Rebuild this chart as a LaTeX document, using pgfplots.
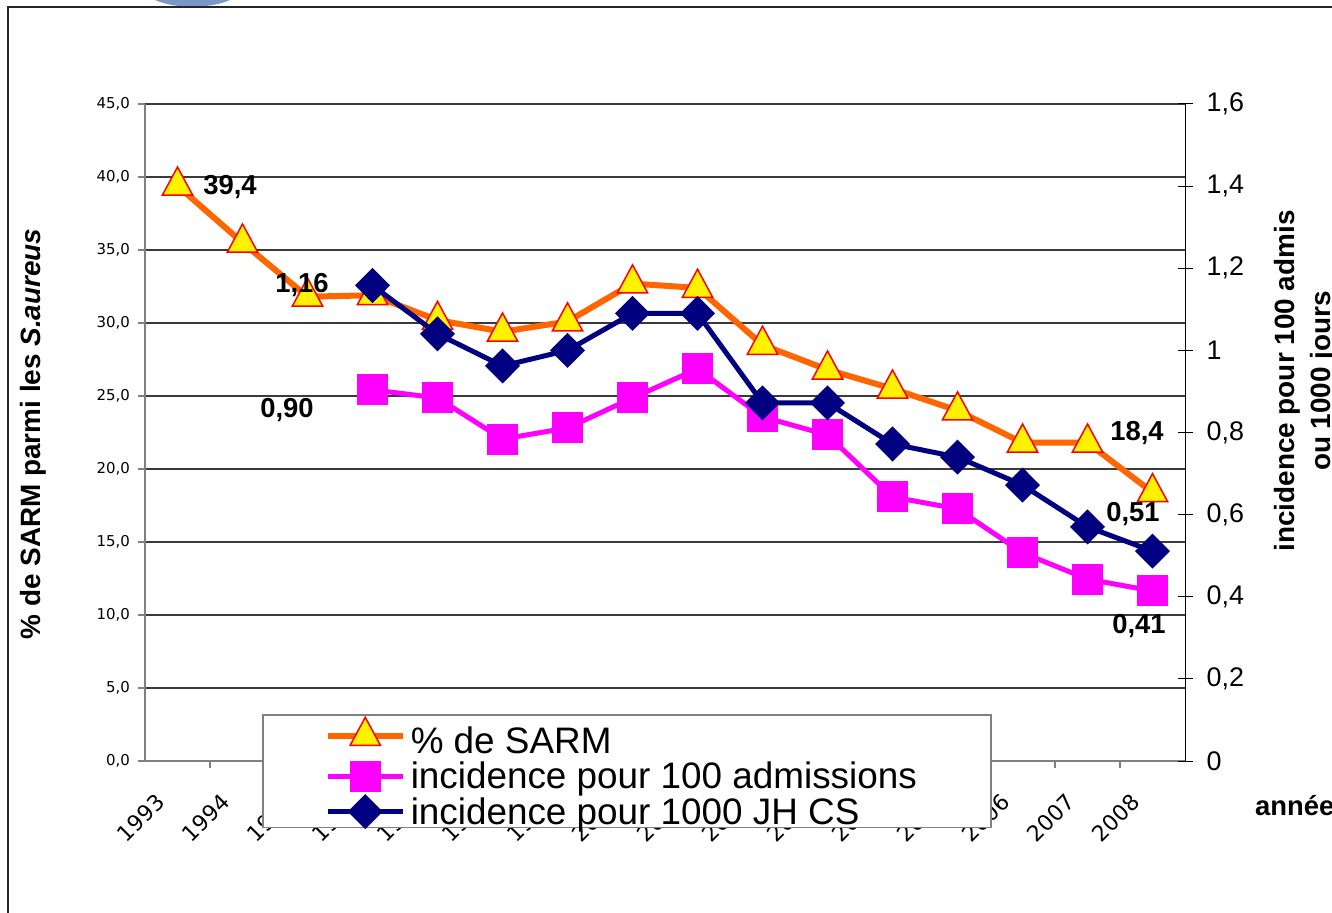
\documentclass[border=0pt]{standalone}
\usepackage{pgfplots}
\pgfplotsset{compat=1.18}
\usepackage{fontspec}
\setmainfont{Liberation Sans}
\newfontfamily\dejavu{DejaVu Sans}
\definecolor{sarmorange}{HTML}{FF6600}
\definecolor{admmag}{HTML}{FF00FF}
\definecolor{jhnavy}{HTML}{000080}
\definecolor{gridgray}{HTML}{3A3A3A}
\definecolor{axgray}{HTML}{808080}
\definecolor{blobblue}{HTML}{7B96C8}
\pgfplotsset{
  sarmstyle/.style={draw=sarmorange, line width=6bp, mark=triangle*, mark size=17.5bp,
    mark options={solid, fill=yellow, draw=red, line width=1.5bp, yscale=1.07}},
  admstyle/.style={draw=admmag, line width=5bp, mark=square*, mark size=13bp,
    mark options={solid, fill=admmag, draw=none}},
  jhstyle/.style={draw=jhnavy, line width=5bp, mark=diamond*, mark size=14bp,
    mark options={solid, fill=jhnavy, draw=none, xscale=1.33}},
}
\begin{document}
\begin{tikzpicture}[x=1bp,y=1bp]
\useasboundingbox (0,0) rectangle (1332,912);
\clip (0,0) rectangle (1332,912);
\fill[white] (0,0) rectangle (1332,912);
% top blob (fragment of a picture)
\fill[blobblue] (155,912) .. controls (175,903) and (210,903) .. (230,912) -- cycle;
% frame
\draw[line width=2bp, black!85] (8,-5) -- (8,905) -- (1340,905);

\begin{axis}[
  at={(145bp,151bp)}, anchor=south west,
  scale only axis, width=1040bp, height=657bp,
  xmin=-0.5, xmax=15.5, ymin=0, ymax=45,
  axis x line*=bottom, axis y line*=left,
  x axis line style={draw=axgray, line width=2bp},
  y axis line style={draw=axgray, line width=1.5bp},
  xtick={0,1,...,15},
  xticklabels={1993,1994,1995,1996,1997,1998,1999,2000,2001,2002,2003,2004,2005,2006,2007,2008},
  minor x tick num=1,
  major x tick style={draw=none},
  minor x tick style={draw=axgray, line width=1.5bp},
  minor tick length=7bp, major tick length=7bp,
  tick align=outside,
  xticklabel style={font=\dejavu\fontsize{22}{22}\selectfont, xshift=-23bp, yshift=-24bp, rotate=45, anchor=north east, inner sep=0pt},
  ytick={0,5,10,15,20,25,30,35,40,45},
  yticklabels={{0,0},{5,0},{10,0},{15,0},{20,0},{25,0},{30,0},{35,0},{40,0},{45,0}},
  yticklabel style={font=\dejavu\fontsize{15}{15}\selectfont, inner xsep=8bp},
  ytick style={draw=axgray, line width=1.5bp},
  ymajorgrids, major grid style={draw=gridgray, line width=1.2bp},
  clip=false,
]
\addplot[sarmstyle] coordinates {
(0,39.4) (1,35.5) (2,31.8) (3,31.9) (4,30.2) (5,29.4) (6,30.1) (7,32.7)
(8,32.4) (9,28.5) (10,26.8) (11,25.5) (12,24.0) (13,21.8) (14,21.8) (15,18.4)};
\end{axis}

\begin{axis}[
  at={(145bp,151bp)}, anchor=south west,
  scale only axis, width=1040bp, height=657bp,
  xmin=-0.5, xmax=15.5, ymin=0, ymax=1.6,
  axis x line=none, axis y line*=right,
  y axis line style={draw=black, line width=1bp},
  ytick={0,0.2,0.4,0.6,0.8,1,1.2,1.4,1.6},
  yticklabels={{0},{0,2},{0,4},{0,6},{0,8},{1},{1,2},{1,4},{1,6}},
  tick align=center, major tick length=15bp,
  ytick style={draw=black, line width=1bp},
  yticklabel style={font=\fontsize{27}{27}\selectfont, inner xsep=14bp},
  clip=false,
  legend cell align=left,
  legend image code/.code={\draw[mark repeat=2,mark phase=2,#1] plot coordinates {(0bp,0bp)(37.5bp,0bp)(75bp,0bp)};},
  legend style={at={(0.1125,0.0715)}, anchor=north west, draw=axgray, line width=1.5bp,
    fill=white, font=\fontsize{37}{34}\selectfont, inner xsep=62bp, inner ysep=0bp,
    row sep=3bp, column sep=3bp, nodes={inner sep=2bp}},
]
\addlegendimage{sarmstyle}
\addlegendentry{\rule{0pt}{37bp}\% de SARM}
\addplot[admstyle] coordinates {
(3,0.904) (4,0.884) (5,0.784) (6,0.811) (7,0.884) (8,0.955) (9,0.838)
(10,0.794) (11,0.643) (12,0.614) (13,0.507) (14,0.443) (15,0.414)};
\addlegendentry{incidence pour 100 admissions\hspace*{10bp}}
\addplot[jhstyle] coordinates {
(3,1.158) (4,1.04) (5,0.962) (6,1.0) (7,1.09) (8,1.09) (9,0.872)
(10,0.872) (11,0.772) (12,0.74) (13,0.672) (14,0.57) (15,0.511)};
\addlegendentry{incidence pour 1000 JH CS}
\end{axis}

% data labels
\begin{scope}[every node/.style={font=\bfseries\fontsize{27.5}{30}\selectfont, inner sep=0pt}]
\node at (230,725) {39,4};
\node at (302,627) {1,16};
\node at (287,502) {0,90};
\node at (1137,479) {18,4};
\node at (1133,398) {0,51};
\node at (1139,286) {0,41};
\node[anchor=base west] at (1255,97) {année};
\end{scope}
% axis titles
\node[rotate=90, font=\bfseries\fontsize{28}{34}\selectfont, inner sep=0pt] at (33,478) {\% de SARM parmi les \textit{S.aureus}};
\node[rotate=90, align=center, font=\bfseries\fontsize{28}{36}\selectfont, inner sep=0pt] at (1305,531) {incidence pour 100 admis\\ou 1000 jours};
\end{tikzpicture}
\end{document}
